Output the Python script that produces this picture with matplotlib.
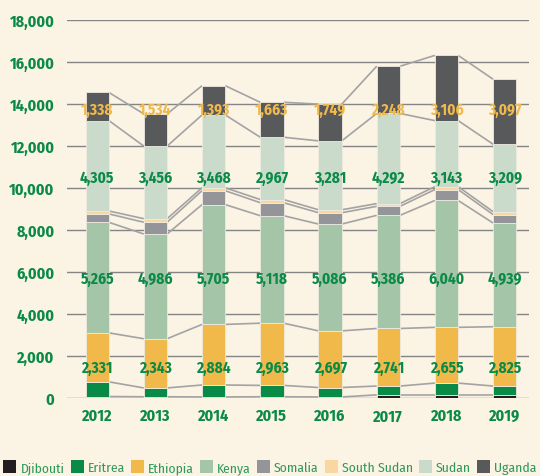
import matplotlib
matplotlib.use("Agg")
import matplotlib.pyplot as plt
import numpy as np
from matplotlib.patches import Patch

years = ["2012", "2013", "2014", "2015", "2016", "2017", "2018", "2019"]
djibouti = [70, 60, 50, 60, 50, 150, 150, 150]
eritrea = [700, 420, 570, 540, 450, 420, 560, 420]
ethiopia = [2331, 2343, 2884, 2963, 2697, 2741, 2655, 2825]
kenya = [5265, 4986, 5705, 5118, 5086, 5386, 6040, 4939]
somalia = [400, 560, 660, 620, 540, 430, 520, 400]
south_sudan = [140, 170, 140, 150, 140, 130, 140, 140]
sudan = [4305, 3456, 3468, 2967, 3281, 4292, 3143, 3209]
uganda = [1338, 1534, 1393, 1663, 1749, 2248, 3106, 3097]

series_names = ["Djibouti", "Eritrea", "Ethiopia", "Kenya", "Somalia",
                "South Sudan", "Sudan", "Uganda"]
series_values = [djibouti, eritrea, ethiopia, kenya, somalia, south_sudan, sudan, uganda]
colors = ["#231F20", "#0A8A47", "#F0B94A", "#A5C5A8", "#939598",
          "#F8D8A0", "#CADBCB", "#58595B"]

yticks = [0, 2000, 4000, 6000, 8000, 10000, 12000, 14000, 16000, 18000]

# fixed label heights (data units) per labelled series
label_series = {"Ethiopia": 1480, "Kenya": 5720, "Sudan": 10520, "Uganda": 13720}
label_colors = {"Ethiopia": "#0A8A47", "Kenya": "#0A8A47", "Sudan": "#0A8A47",
                "Uganda": "#F0B94A"}

bg = "#FBF3E4"
green = "#0A8A47"
font = ["Fira Sans Condensed", "DejaVu Sans"]
plt.rcParams["font.family"] = font

fig = plt.figure(figsize=(5.40, 4.77), dpi=100, facecolor=bg)
ax = fig.add_axes([0.124, 0.1635, 0.856, 0.7925])
ax.set_facecolor(bg)

x = np.arange(len(years))
width = 0.40
bottom = np.zeros(len(years))
tops = []
for name, vals, c in zip(series_names, series_values, colors):
    v = np.array(vals, dtype=float)
    ax.bar(x, v, width, bottom=bottom, color=c, edgecolor="#EEEAE0",
           linewidth=0.6, zorder=3)
    bottom = bottom + v
    tops.append(bottom.copy())

# series lines
for t in tops:
    for i in range(len(years) - 1):
        ax.plot([x[i] + width / 2, x[i + 1] - width / 2], [t[i], t[i + 1]],
                color="#A3A3A3", lw=1.2, zorder=2, solid_capstyle="butt")

# value labels
for name, vals in zip(series_names, series_values):
    if name in label_series:
        for i, v in enumerate(vals):
            ax.text(x[i], label_series[name], f"{v:,}", ha="center", va="center",
                    color=label_colors[name], fontsize=11, fontweight="bold",
                    zorder=5)

ax.set_ylim(0, 18000)
ax.set_xlim(-0.52, 7.42)
ax.set_yticks(yticks)
ax.set_yticklabels([f"{t:,}" for t in yticks], color=green, fontsize=11.5,
                   fontweight="bold")
ax.set_xticks(x)
ax.set_xticklabels(years, color=green, fontsize=11.5, fontweight="bold")
ax.tick_params(axis="both", length=0)
ax.tick_params(axis="y", pad=9)
ax.tick_params(axis="x", pad=7)
ax.yaxis.grid(True, color="#858585", lw=1.0, zorder=0)
ax.set_axisbelow(True)
for s in ax.spines.values():
    s.set_visible(False)

handles = [Patch(facecolor=c, edgecolor="none") for c in colors]
leg = fig.legend(handles, series_names, loc="lower center", ncol=8,
                 bbox_to_anchor=(0.5, -0.022), frameon=False,
                 handlelength=0.95, handleheight=1.0, handletextpad=0.3,
                 columnspacing=0.45,
                 prop={"family": font, "weight": "normal", "size": 9.8})
for t in leg.get_texts():
    t.set_color("#2E9A5A")

fig.savefig("out.png", dpi=100, facecolor=bg)
